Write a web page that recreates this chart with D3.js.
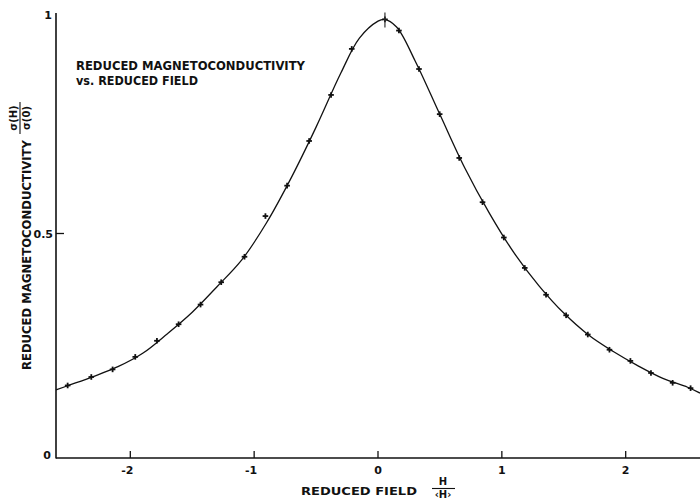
<!DOCTYPE html>
<html><head><meta charset="utf-8">
<script src="https://cdn.jsdelivr.net/npm/d3@7"></script>
<style>
html,body{margin:0;padding:0;background:#fff;}
text{font-family:"DejaVu Sans",sans-serif;font-weight:bold;fill:#111;}
</style></head>
<body>
<script>
// measured points (reduced field, reduced magnetoconductivity)
const pointX = [-2.506,-2.315,-2.143,-1.960,-1.785,-1.610,-1.433,-1.266,-1.078,-0.909,-0.734,-0.556,-0.379,-0.212,0.056,0.169,0.331,0.498,0.656,0.844,1.016,1.185,1.357,1.519,1.694,1.869,2.038,2.204,2.379,2.524];
const pointY = [0.160,0.179,0.196,0.224,0.260,0.297,0.341,0.391,0.448,0.539,0.607,0.707,0.810,0.913,0.979,0.954,0.868,0.767,0.669,0.570,0.491,0.423,0.363,0.317,0.274,0.240,0.215,0.188,0.166,0.154];
// fitted curve
const curveX = [-2.6,-2.5,-2.3,-2.1,-1.9,-1.7,-1.5,-1.3,-1.1,-0.9,-0.7,-0.5,-0.3,-0.15,0.0,0.05,0.15,0.3,0.5,0.7,0.9,1.1,1.3,1.5,1.7,1.9,2.1,2.3,2.5,2.6];
const curveY = [0.150,0.160,0.180,0.202,0.232,0.276,0.324,0.381,0.441,0.524,0.625,0.738,0.859,0.937,0.975,0.979,0.962,0.886,0.766,0.647,0.545,0.456,0.383,0.322,0.273,0.236,0.204,0.176,0.156,0.143];
const xTicks = [-2,-1,0,1,2];
const xTickLabels = ["-2","-1","0","1","2"];
const yTicks = [0,0.5,1];
const yTickLabels = ["0","0.5","1"];
const titleLines = ["REDUCED MAGNETOCONDUCTIVITY","vs. REDUCED FIELD"];
const xTitle = "REDUCED FIELD";
const yTitle = "REDUCED MAGNETOCONDUCTIVITY";

const W=700,H=501;
const svg=d3.select("body").append("svg").attr("width",W).attr("height",H);
const x=d3.scaleLinear().domain([-2.6,2.6]).range([56,700]);
const y=d3.scaleLinear().domain([0,1]).range([457,10]);

// axes
const ax=svg.append("g");
ax.append("line").attr("x1",x(-2.6)).attr("x2",x(2.6)).attr("y1",y(0)+1).attr("y2",y(0)+1).attr("stroke","#111").attr("stroke-width",1.6);
ax.append("line").attr("x1",x(-2.6)).attr("x2",x(-2.6)).attr("y1",13).attr("y2",y(0)+1.5).attr("stroke","#111").attr("stroke-width",1.6);
// x ticks
ax.selectAll(".xt").data(xTicks).join("line").attr("x1",d=>x(d)).attr("x2",d=>x(d)).attr("y1",y(0)-6).attr("y2",y(0)+1).attr("stroke","#111").attr("stroke-width",1.3);
ax.selectAll(".xl").data(xTicks).join("text").attr("x",(d,i)=>x(d)+(d<0?-3:0)).attr("y",y(0)+17).attr("text-anchor","middle").attr("font-size",11).text((d,i)=>xTickLabels[i]);
// y ticks
ax.selectAll(".yt").data(yTicks.filter(d=>d===0.5)).join("line").attr("x1",x(-2.6)).attr("x2",x(-2.6)+8).attr("y1",d=>y(d)).attr("y2",d=>y(d)).attr("stroke","#111").attr("stroke-width",1.3);
ax.selectAll(".yl").data(yTicks).join("text").attr("x",(d,i)=>d===0.5?53:(d===1?52:51)).attr("y",d=>d===1?y(d)+9:(d===0?y(d)+2:y(d)+4)).attr("text-anchor","end").attr("font-size",11).text((d,i)=>yTickLabels[i]);

// curve
const line=d3.line().x(d=>x(d[0])).y(d=>y(d[1])).curve(d3.curveCatmullRom.alpha(0.5));
svg.append("path").datum(curveX.map((v,i)=>[v,curveY[i]])).attr("d",line).attr("fill","none").attr("stroke","#111").attr("stroke-width",1.3);

// points as crosses
const pts=svg.append("g").selectAll("g").data(pointX.map((v,i)=>[v,pointY[i]])).join("g").attr("transform",d=>`translate(${x(d[0])},${y(d[1])})`);
pts.append("line").attr("x1",-2.8).attr("x2",2.8).attr("stroke","#111").attr("stroke-width",1.8);
pts.append("line").attr("y1",-2.8).attr("y2",2.8).attr("stroke","#111").attr("stroke-width",1.8);
// error bar at peak point
const peakIdx=pointY.indexOf(d3.max(pointY));
svg.append("line").attr("x1",x(pointX[peakIdx])).attr("x2",x(pointX[peakIdx])).attr("y1",y(pointY[peakIdx])-7).attr("y2",y(pointY[peakIdx])+8).attr("stroke","#333").attr("stroke-width",1.2);

// title
svg.append("text").attr("x",76).attr("y",70).attr("font-size",11.5).attr("textLength",229).attr("lengthAdjust","spacingAndGlyphs").text(titleLines[0]);
svg.append("text").attr("x",76).attr("y",85).attr("font-size",11.5).attr("textLength",122).attr("lengthAdjust","spacingAndGlyphs").text(titleLines[1]);

// x title with fraction
svg.append("text").attr("x",301).attr("y",495).attr("font-size",11).attr("textLength",116).attr("lengthAdjust","spacingAndGlyphs").text(xTitle);
svg.append("text").attr("x",443).attr("y",485).attr("text-anchor","middle").attr("font-size",10).text("H");
svg.append("line").attr("x1",432).attr("x2",455).attr("y1",488.5).attr("y2",488.5).attr("stroke","#111").attr("stroke-width",1.1);
svg.append("text").attr("x",443).attr("y",498).attr("text-anchor","middle").attr("font-size",10).text("\u2039H\u203A");

// y title with fraction (rotated)
svg.append("text").attr("transform","translate(31,255) rotate(-90)").attr("text-anchor","middle").attr("font-size",11.5).attr("textLength",230).attr("lengthAdjust","spacingAndGlyphs").text(yTitle);
const fr=svg.append("g").attr("transform","translate(20,118) rotate(-90)");
fr.append("text").attr("x",0).attr("y",-3).attr("text-anchor","middle").attr("font-size",10).text("\u03C3(H)");
fr.append("line").attr("x1",-16).attr("x2",16).attr("y1",0).attr("y2",0).attr("stroke","#111").attr("stroke-width",1.1);
fr.append("text").attr("x",0).attr("y",10).attr("text-anchor","middle").attr("font-size",10).text("\u03C3(0)");
</script>
</body></html>
